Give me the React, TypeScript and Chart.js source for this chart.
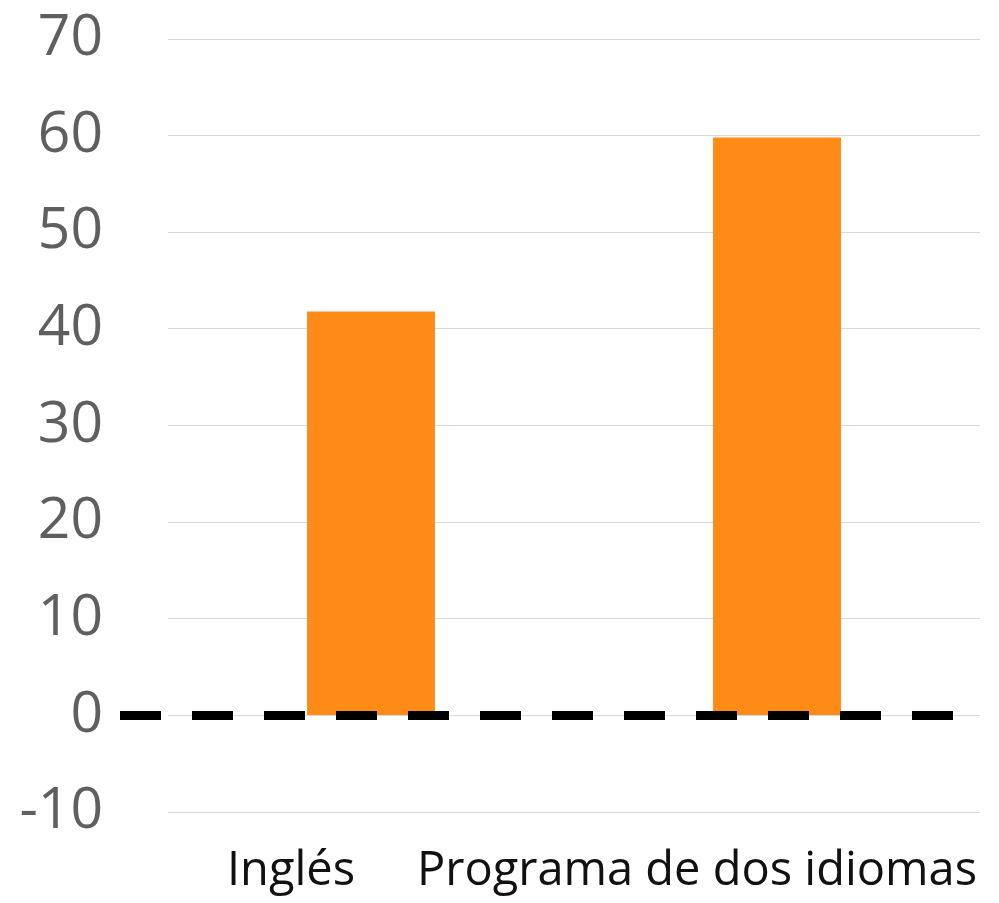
import React, { useEffect, useRef } from "react";
import { Chart, registerables } from "chart.js";

Chart.register(...registerables);

const categories = ["Inglés", "Programa de dos idiomas"];
const values = [41.8, 59.8];
const yMin = -10;
const yMax = 70;
const yStep = 10;
const referenceValue = 0;

const dashedZeroLine = {
  id: "dashedZeroLine",
  afterDatasetsDraw(chart: any) {
    const { ctx, chartArea, scales } = chart;
    const y = scales.y.getPixelForValue(referenceValue);
    ctx.save();
    ctx.beginPath();
    ctx.setLineDash([41, 31]);
    ctx.lineWidth = 9;
    ctx.strokeStyle = "#000000";
    ctx.lineCap = "butt";
    ctx.moveTo(chartArea.left - 48, y);
    ctx.lineTo(chartArea.right - 25, y);
    ctx.stroke();
    ctx.restore();
  },
};

export default function App() {
  const ref = useRef<HTMLCanvasElement | null>(null);

  useEffect(() => {
    if (!ref.current) return;
    const chart = new Chart(ref.current, {
      type: "bar",
      data: {
        labels: categories,
        datasets: [
          {
            data: values,
            backgroundColor: "#FF8B17",
            borderWidth: 0,
            categoryPercentage: 1,
            barPercentage: 0.315,
          },
        ],
      },
      options: {
        responsive: false,
        animation: false,
        devicePixelRatio: 1,
        layout: { padding: { top: 39, right: 19, bottom: 0, left: 0 } },
        plugins: {
          legend: { display: false },
          tooltip: { enabled: false },
          title: { display: false },
        },
        scales: {
          x: {
            grid: { display: false, drawTicks: false },
            border: { display: false },
            ticks: {
              color: "#111111",
              font: { family: "'Open Sans', sans-serif", size: 47 },
              padding: 31,
              labelOffset: -80,
              maxRotation: 0,
              autoSkip: false,
            },
            afterFit(scale: any) {
              scale.height = 91;
              scale.paddingLeft = 0;
              scale.paddingRight = 0;
            },
          },
          y: {
            min: yMin,
            max: yMax,
            grid: { color: "#d9d9d9", lineWidth: 1, drawTicks: false },
            border: { display: false },
            ticks: {
              stepSize: yStep,
              color: "#5f5f5f",
              font: { family: "'Open Sans', sans-serif", size: 57 },
              padding: 65,
            },
            afterFit(scale: any) {
              scale.width = 168;
              scale.paddingTop = 0;
              scale.paddingBottom = 0;
            },
          },
        },
      },
      plugins: [dashedZeroLine],
    });
    return () => chart.destroy();
  }, []);

  return (
    <div
      style={{
        position: "fixed",
        left: 0,
        top: 0,
        width: 999,
        height: 903,
        background: "#ffffff",
      }}
    >
      <canvas ref={ref} width={999} height={903} style={{ display: "block" }} />
    </div>
  );
}
